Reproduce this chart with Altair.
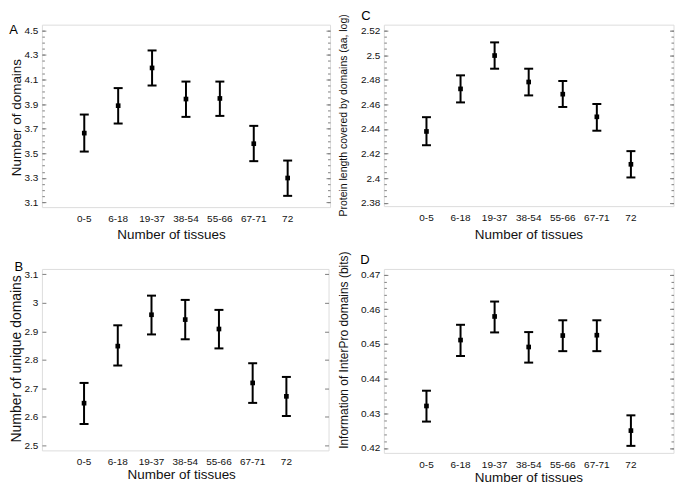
import altair as alt
import pandas as pd

FONT = "Liberation Sans"
GRAY = "#808080"

categories = ["0-5", "6-18", "19-37", "38-54", "55-66", "67-71", "72"]

# Panel A: number of domains
a_mean = [3.664, 3.887, 4.194, 3.941, 3.946, 3.578, 3.299]
a_lo = [3.514, 3.742, 4.051, 3.796, 3.804, 3.436, 3.154]
a_hi = [3.815, 4.030, 4.336, 4.083, 4.083, 3.723, 3.441]

# Panel B: number of unique domains
b_mean = [2.648, 2.848, 2.958, 2.941, 2.908, 2.719, 2.672]
b_lo = [2.575, 2.780, 2.889, 2.872, 2.840, 2.649, 2.603]
b_hi = [2.719, 2.921, 3.025, 3.010, 2.975, 2.788, 2.740]

# Panel C: protein length covered by domains
c_mean = [2.4380, 2.4726, 2.4997, 2.4782, 2.4683, 2.4499, 2.4113]
c_lo = [2.4268, 2.4616, 2.4890, 2.4673, 2.4579, 2.4386, 2.4006]
c_hi = [2.4496, 2.4836, 2.5104, 2.4890, 2.4790, 2.4603, 2.4220]

# Panel D: information of InterPro domains
d_mean = [0.4321, 0.4511, 0.4579, 0.4491, 0.4524, 0.4525, 0.4250]
d_lo = [0.4276, 0.4465, 0.4533, 0.4446, 0.4479, 0.4479, 0.4206]
d_hi = [0.4365, 0.4555, 0.4622, 0.4534, 0.4568, 0.4568, 0.4294]

# tick labels
a_ticks = [3.1, 3.3, 3.5, 3.7, 3.9, 4.1, 4.3, 4.5]
b_ticks = [2.5, 2.6, 2.7, 2.8, 2.9, 3.0, 3.1]
c_ticks = [2.38, 2.40, 2.42, 2.44, 2.46, 2.48, 2.50, 2.52]
d_ticks = [0.42, 0.43, 0.44, 0.45, 0.46, 0.47]


def minors(start, step, n):
    return [round(start + i * step, 5) for i in range(n)]


a_minor = minors(3.1, 0.05, 29)
c_minor = minors(2.38, 0.005, 29)
d_minor = minors(0.42, 0.002, 26)


def panel(letter, mean, lo, hi, domain, major, minor, ytitle, ysize,
          ytx, yty, xtx, xty, lx, ly, w, h):
    df = pd.DataFrame({"cat": categories, "mean": mean, "lo": lo, "hi": hi})
    yscale = alt.Scale(domain=domain, nice=False, zero=False)
    x = alt.X(
        "cat:N",
        sort=categories,
        scale=alt.Scale(type="band", paddingInner=0, paddingOuter=0.75,
                        domain=categories),
        axis=alt.Axis(
            title="Number of tissues", labelAngle=0, ticks=False, tickSize=0,
            domain=False, grid=False, labelPadding=6.5, labelFontSize=10,
            labelFont=FONT, labelColor="#111111", titleFont=FONT,
            titleFontSize=13.5, titleFontWeight="normal", titleColor="#111111",
            titleBaseline="alphabetic", titleX=xtx, titleY=xty,
        ),
    )
    left_main = alt.Axis(
        orient="left", title=ytitle, values=major, format="~g", grid=False,
        domain=False, tickSize=alt.ExprRef(expr="-4"), tickColor=GRAY,
        labelPadding=8, labelFontSize=10, labelFont=FONT, labelColor="#111111",
        titleFont=FONT, titleFontSize=ysize, titleFontWeight="normal",
        titleColor="#111111", titleBaseline="alphabetic", titleX=ytx, titleY=yty,
    )
    right_major = alt.Axis(
        orient="right", title=None, values=major, labels=False, grid=False,
        domain=False, tickSize=alt.ExprRef(expr="-4"), tickColor=GRAY,
    )
    if minor:
        left_minor = alt.Axis(
            orient="left", title=None, values=minor, labels=False, grid=False,
            domain=False, tickSize=alt.ExprRef(expr="-2.5"), tickColor=GRAY,
        )
        right_minor = alt.Axis(
            orient="right", title=None, values=minor, labels=False, grid=False,
            domain=False, tickSize=alt.ExprRef(expr="-2.5"), tickColor=GRAY,
        )
    else:
        left_minor = None
        right_minor = None

    base = alt.Chart(df)
    rule = base.mark_rule(color="black", strokeWidth=2).encode(
        x=x, y=alt.Y("lo:Q", scale=yscale, axis=left_main), y2="hi:Q"
    )
    cap_lo = base.mark_tick(color="black", size=9, thickness=2, opacity=1).encode(
        x=x, y=alt.Y("lo:Q", scale=yscale, axis=left_minor)
    )
    cap_hi = base.mark_tick(color="black", size=9, thickness=2, opacity=1).encode(
        x=x, y=alt.Y("hi:Q", scale=yscale, axis=right_minor)
    )
    pts = base.mark_point(shape="square", filled=True, size=22, color="black",
                          opacity=1).encode(
        x=x, y=alt.Y("mean:Q", scale=yscale, axis=right_major)
    )
    txt = alt.Chart(pd.DataFrame({"t": [letter]})).mark_text(
        align="left", baseline="alphabetic", fontSize=13, font=FONT, color="black"
    ).encode(text="t:N", x=alt.value(lx), y=alt.value(ly))

    return alt.layer(rule, cap_lo, cap_hi, pts, txt).resolve_axis(
        y="independent"
    ).properties(width=w, height=h)


A = panel("A", a_mean, a_lo, a_hi, [3.0624, 4.5457], a_ticks, a_minor,
          "Number of domains", 13.5, -21.5, 92.7, 129.5, 31.5, -32.8, 9.2, 289, 183)
B = panel("B", b_mean, b_lo, b_hi, [2.4825, 3.1186], b_ticks, None,
          "Number of unique domains", 14, -21.5, 89.7, 139.7, 28, -27.5, 2, 287.5, 182)
C = panel("C", c_mean, c_lo, c_hi, [2.3773, 2.5248], c_ticks, c_minor,
          "Protein length covered by domains (aa, log)", 10.5, -37.4, 90.5, 145, 32.5,
          -22.8, -4.8, 290.5, 182)
D = panel("D", d_mean, d_lo, d_hi, [0.41858, 0.4716], d_ticks, d_minor,
          "Information of InterPro domains (bits)", 12, -36.3, 81, 145, 29,
          -23.8, -4.6, 290.5, 184.5)

chart = alt.concat(
    A, C, B, D, columns=2, spacing={"row": 62, "column": 54}, bounds="flush"
).properties(padding=0).configure_view(stroke=GRAY, strokeWidth=1).configure(
    font=FONT
)

chart.save("out.html", embed_options={"renderer": "svg", "actions": False})
